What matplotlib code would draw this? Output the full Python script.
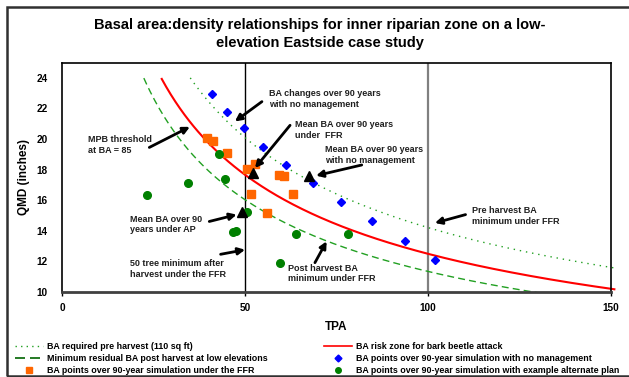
import numpy as np
import matplotlib
matplotlib.use("Agg")
import matplotlib.pyplot as plt
from matplotlib.lines import Line2D
from matplotlib.patches import Rectangle

plt.rcParams['font.family'] = ['Liberation Sans', 'DejaVu Sans']
plt.rcParams['font.weight'] = 'bold'

# ---- data ----
title = "Basal area:density relationships for inner riparian zone on a low-\nelevation Eastside case study"

# basal-area levels of the reference curves (sq ft / acre)
ba_pre_harvest = 110
ba_beetle_risk = 85
ba_min_residual = 70
curve_tpa_start = [35.0, 27.2, 22.3]   # where each curve enters the plot (QMD = 24)
curve_tpa_end = 151

no_mgmt_tpa = [40.9, 45.0, 49.6, 55.0, 61.2, 68.5, 76.3, 84.8, 93.6, 101.9]
no_mgmt_qmd = [22.95, 21.8, 20.7, 19.5, 18.3, 17.1, 15.85, 14.6, 13.35, 12.05]

ffr_tpa = [39.7, 41.1, 45.0, 50.4, 52.7, 51.7, 59.4, 60.7, 63.0, 55.9]
ffr_qmd = [20.1, 19.85, 19.1, 18.05, 18.35, 16.4, 17.65, 17.6, 16.4, 15.15]

alt_tpa = [23.2, 34.3, 42.8, 44.6, 50.6, 46.7, 47.4, 63.9, 59.5, 78.1]
alt_qmd = [16.35, 17.1, 19.05, 17.35, 15.2, 13.9, 13.95, 13.8, 11.9, 13.8]

mean_tpa = [49.1, 52.1, 67.6]
mean_qmd = [15.2, 17.8, 17.6]

x_ticks = [0, 50, 100, 150]
y_ticks = [10, 12, 14, 16, 18, 20, 22, 24]

annotations = [
    ("MPB threshold\nat BA = 85", (6.9, 19.6), (23.8, 19.45), (34.9, 20.8)),
    ("BA changes over 90 years\nwith no management", (56.6, 22.6), (54.6, 22.45), (47.2, 21.15)),
    ("Mean BA over 90 years\nunder  FFR", (63.7, 20.6), (62.3, 20.9), (52.7, 18.1)),
    ("Mean BA over 90 years\nwith no management", (71.9, 18.95), (81.9, 18.3), (69.4, 17.6)),
    ("Pre harvest BA\nminimum under FFR", (112.0, 14.95), (110.3, 15.05), (101.9, 14.5)),
    ("Post harvest BA\nminimum under FFR", (61.6, 11.2), (69.1, 11.9), (72.3, 13.3)),
    ("Mean BA over 90\nyears under AP", (18.5, 14.4), (40.2, 14.6), (47.7, 15.05)),
    ("50 tree minimum after\nharvest under the FFR", (18.4, 11.5), (43.3, 12.45), (50.0, 12.75)),
]

# ---- figure ----
W, H = 629, 377
fig = plt.figure(figsize=(W / 100, H / 100), dpi=100)
ax = fig.add_axes([62.3 / W, 1 - 291.7 / H, (610.7 - 62.3) / W, (291.7 - 62.7) / H])

# outer border
fig.patches.append(Rectangle((7 / W, 1 - 376 / H), 1.0, (376 - 6.5) / H, transform=fig.transFigure,
                             fill=False, edgecolor='#303030', lw=1.8, zorder=0))

ax.axvline(50, color='black', lw=1.0, zorder=1)
ax.axvline(100, color='#808080', lw=1.6, zorder=1)


def qmd_curve(ba, t0):
    tpa = np.linspace(t0, curve_tpa_end, 300)
    return tpa, np.sqrt(ba / (0.005454 * tpa))


t, q = qmd_curve(ba_pre_harvest, curve_tpa_start[0])
l_pre, = ax.plot(t, q, color='#22a022', lw=1.0, ls=(0, (1, 3.5)), clip_on=False, zorder=2)
t, q = qmd_curve(ba_beetle_risk, curve_tpa_start[1])
l_red, = ax.plot(t, q, color='#ff0000', lw=1.5, clip_on=False, zorder=2)
t, q = qmd_curve(ba_min_residual, curve_tpa_start[2])
l_min, = ax.plot(t, q, color='#22a022', lw=1.0, ls=(0, (5, 3)), zorder=2)

ax.plot(no_mgmt_tpa, no_mgmt_qmd, ls='none', marker='D', ms=4.2, color='#0000ff', zorder=4)
ax.plot(ffr_tpa, ffr_qmd, ls='none', marker='s', ms=5.8, color='#ff6600', zorder=4)
ax.plot(alt_tpa, alt_qmd, ls='none', marker='o', ms=5.5, color='#008000', zorder=4)
ax.plot(mean_tpa, mean_qmd, ls='none', marker='^', ms=7.5, color='black', zorder=5)

for txt, tpos, a0, a1 in annotations:
    ax.text(tpos[0], tpos[1], txt, fontsize=6.5, fontweight='bold', ha='left', va='center',
            linespacing=1.25, color='#202020', zorder=6)
    ax.annotate('', xy=a1, xytext=a0,
                arrowprops=dict(arrowstyle='-|>', color='black', lw=2.0, mutation_scale=10,
                                shrinkA=0, shrinkB=0), zorder=6)

ax.set_xlim(0, 150)
ax.set_ylim(10, 25)
ax.set_xticks(x_ticks)
ax.set_yticks(y_ticks)
ax.tick_params(axis='x', length=3, width=1, direction='out', pad=5, labelsize=7.2, colors='black')
ax.tick_params(axis='y', length=0, pad=10.5, labelsize=7.2)
for lab in ax.get_xticklabels() + ax.get_yticklabels():
    lab.set_fontweight('bold')

for s in ['top', 'right', 'left']:
    ax.spines[s].set_color('black')
    ax.spines[s].set_linewidth(1.2)
ax.spines['bottom'].set_color('#404040')
ax.spines['bottom'].set_linewidth(2.0)

ax.set_xlabel('TPA', fontsize=8.5, fontweight='bold', labelpad=6)
ax.set_ylabel('QMD (inches)', fontsize=8.5, fontweight='bold', labelpad=5)

fig.text(320 / W, 1 - 34 / H, title, ha='center', va='center', fontsize=10.5, fontweight='bold',
         linespacing=1.45)

# legends
h_pre = Line2D([], [], color='#22a022', lw=1.0, ls=(0, (1, 3)))
h_min = Line2D([], [], color='#006400', lw=1.2, ls=(0, (6, 3)))
h_ffr = Line2D([], [], ls='none', marker='s', ms=4, color='#ff6600')
h_red = Line2D([], [], color='#ff0000', lw=1.2)
h_blue = Line2D([], [], ls='none', marker='D', ms=3.5, color='#0000ff')
h_green = Line2D([], [], ls='none', marker='o', ms=4, color='#008000')

common = dict(frameon=False, fontsize=6.4, borderpad=0, borderaxespad=0, handlelength=3.2,
              handletextpad=0.45, labelspacing=0.36, loc='upper left')
leg1 = fig.legend([h_pre, h_min, h_ffr],
                  ['BA required pre harvest (110 sq ft)',
                   'Minimum residual BA post harvest at low elevations',
                   'BA points over 90-year simulation under the FFR'],
                  bbox_to_anchor=(15 / W, 1 - 342 / H), **common)
leg2 = fig.legend([h_red, h_blue, h_green],
                  ['BA risk zone for bark beetle attack',
                   'BA points over 90-year simulation with no management',
                   'BA points over 90-year simulation with example alternate plan'],
                  bbox_to_anchor=(324 / W, 1 - 342 / H), **common)
for leg in (leg1, leg2):
    for t_ in leg.get_texts():
        t_.set_fontweight('bold')

fig.savefig('out.png', dpi=100)
